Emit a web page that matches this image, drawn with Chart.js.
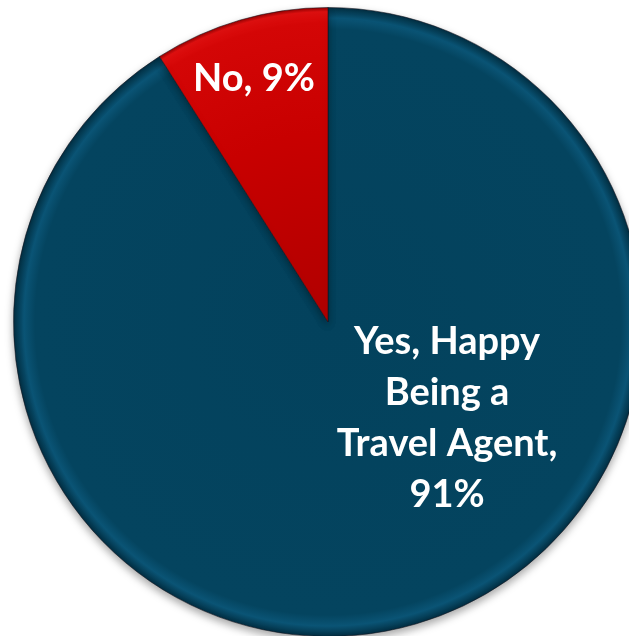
<!DOCTYPE html>
<html>
<head>
<meta charset="utf-8">
<script src="https://cdn.jsdelivr.net/npm/chart.js@4.4.1/dist/chart.umd.min.js"></script>
<style>
  html, body { margin: 0; padding: 0; background: #fff; overflow: hidden; }
  #wrap { position: absolute; left: 0; top: 0; width: 660px; height: 640px; }
</style>
</head>
<body>
<div id="wrap"><canvas id="pieChart" width="660" height="640"></canvas></div>
<script>
const categories = ["Yes, Happy Being a Travel Agent", "No"];
const shares = [91, 9];
const labelLines = [
  ["Yes, Happy", "Being a", "Travel Agent,", "91%"],
  ["No, 9%"],
];

const baseColors = ["#04445F", "#C80000"];

function sliceFill(context) {
  const chart = context.chart;
  const area = chart.chartArea;
  const i = context.dataIndex;
  if (!area) return baseColors[i];
  const cx = (area.left + area.right) / 2;
  const cy = (area.top + area.bottom) / 2;
  const r = Math.min(area.width, area.height) / 2;
  const g = chart.ctx.createRadialGradient(cx, cy, 0, cx, cy, r);
  if (i === 0) {
    g.addColorStop(0, "#03425D");
    g.addColorStop(0.93, "#04445F");
    g.addColorStop(0.965, "#0A5475");
    g.addColorStop(0.99, "#04384F");
    g.addColorStop(1, "#022A3E");
  } else {
    g.addColorStop(0, "#B00000");
    g.addColorStop(0.6, "#C80000");
    g.addColorStop(0.95, "#D40606");
    g.addColorStop(0.985, "#E01010");
    g.addColorStop(1, "#8A0000");
  }
  return g;
}

// soft shadow under the pie
const shadowPlugin = {
  id: "pieShadow",
  beforeDatasetsDraw(chart) {
    const ctx = chart.ctx;
    ctx.save();
    ctx.shadowColor = "rgba(0,0,0,0.35)";
    ctx.shadowBlur = 8;
    ctx.shadowOffsetY = 4;
  },
  afterDatasetsDraw(chart) {
    chart.ctx.restore();
  },
};

// text labels inside the slices
const sliceLabels = {
  id: "sliceLabels",
  afterDraw(chart, args, opts) {
    const ctx = chart.ctx;
    const meta = chart.getDatasetMeta(0);
    ctx.save();
    ctx.fillStyle = "#ffffff";
    ctx.font = opts.font;
    ctx.textAlign = "center";
    ctx.textBaseline = "middle";
    meta.data.forEach((arc, i) => {
      const p = opts.place[i];
      const a = p.angle * Math.PI / 180;
      const x = arc.x + Math.cos(a) * arc.outerRadius * p.r;
      const y = arc.y + Math.sin(a) * arc.outerRadius * p.r;
      const lines = labelLines[i];
      const top = y - (lines.length - 1) * opts.lineHeight / 2;
      lines.forEach((t, k) => ctx.fillText(t, x, top + k * opts.lineHeight));
    });
    ctx.restore();
  },
};

new Chart(document.getElementById("pieChart"), {
  type: "pie",
  data: {
    labels: categories,
    datasets: [{
      data: shares,
      backgroundColor: sliceFill,
      borderColor: "rgba(20,20,30,0.55)",
      borderWidth: 1,
    }],
  },
  options: {
    responsive: false,
    animation: false,
    layout: { padding: { left: 13, top: 7, right: 17, bottom: 3 } },
    plugins: {
      legend: { display: false },
      tooltip: { enabled: false },
      sliceLabels: {
        font: "bold 38px Lato",
        lineHeight: 51,
        place: [
          { angle: 39, r: 0.487 },
          { angle: -106.9, r: 0.81 },
        ],
      },
    },
  },
  plugins: [shadowPlugin, sliceLabels],
});
</script>
</body>
</html>
